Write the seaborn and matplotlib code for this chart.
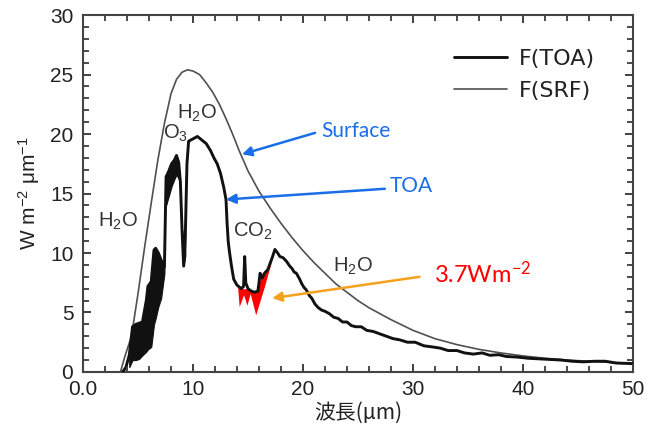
import matplotlib
matplotlib.use("Agg")
import matplotlib.pyplot as plt
from matplotlib.ticker import MultipleLocator, FixedLocator, FixedFormatter, NullFormatter
from matplotlib.lines import Line2D
import numpy as np
import pandas as pd
import seaborn as sns

# ---------------- data ----------------
srf_x = [3.4, 3.8, 4.4, 5.0, 5.6, 6.2, 6.8, 7.4, 8.0, 8.5, 9.0, 9.5, 10.0, 10.6,
         11.2, 11.8, 12.4, 13.0, 13.6, 14.2, 15.0, 16.0, 17.0, 18.0, 19.0, 20.0,
         21.0, 22.0, 23.0, 24.0, 25.0, 26.0, 27.0, 28.0, 30.0, 32.0, 34.0, 36.0,
         38.0, 40.0, 42.0, 44.0, 46.0, 48.0, 50.0]
srf_y = [0.0, 1.3, 3.0, 6.6, 10.5, 14.2, 17.8, 20.9, 23.4, 24.6, 25.2, 25.4, 25.3, 25.0,
         24.3, 23.5, 22.5, 21.3, 20.0, 18.6, 16.9, 15.2, 13.8, 12.5, 11.3, 10.2,
         9.2, 8.3, 7.4, 6.7, 6.0, 5.4, 4.9, 4.4, 3.5, 2.8, 2.3, 1.9,
         1.6, 1.35, 1.15, 1.0, 0.9, 0.8, 0.72]

toa_x = [3.6, 3.9, 4.2, 4.5, 4.8, 5.1, 5.4, 5.75, 5.9, 6.2, 6.45, 6.6, 6.85, 7.1, 7.4,
         7.55, 7.8, 8.05, 8.3, 8.5, 8.7, 8.85, 9.0, 9.15, 9.3, 9.45, 9.6, 10.0, 10.4,
         10.8, 11.2, 11.6, 11.9, 12.2, 12.5, 12.8, 13.0, 13.1, 13.2, 13.3, 13.5, 13.7,
         14.0, 14.4, 14.6, 14.7, 14.8, 15.0, 15.3, 15.6, 15.9, 16.0, 16.1, 16.3, 16.5,
         16.8, 17.0, 17.2, 17.45, 17.7, 17.9, 18.2, 18.5, 18.8, 19.0, 19.2, 19.4, 19.7,
         19.9, 20.1, 20.3, 20.6, 20.8, 21.1, 21.4, 21.7, 22.0, 22.4, 22.8, 23.2, 23.6,
         24.0, 24.4, 24.8, 25.3, 25.8, 26.4, 27.0, 27.6, 28.2, 28.8, 29.5, 30.2, 31.0,
         31.8, 32.5, 33.2, 34.0, 34.7, 35.5, 36.3, 37.0, 37.8, 38.5, 39.5, 40.5, 41.5,
         42.5, 43.5, 44.5, 45.5, 46.5, 47.5, 48.5, 50.0]
toa_y = [0.0, 0.4, 1.4, 3.8, 4.0, 4.1, 4.2, 6.0, 7.2, 7.6, 10.25, 10.4, 10.0, 9.4, 8.8,
         16.4, 16.9, 17.5, 17.8, 18.2, 17.6, 16.0, 12.0, 8.9, 11.5, 17.5, 19.4, 19.6, 19.8,
         19.5, 19.2, 18.6, 18.0, 17.5, 16.7, 15.5, 14.5, 12.5, 11.0, 10.2, 8.9, 7.8,
         7.3, 7.0, 7.2, 9.7, 7.5, 7.0, 6.8, 6.7, 6.8, 7.5, 8.3, 7.9, 8.3,
         8.6, 9.1, 9.6, 10.3, 10.0, 9.7, 9.6, 9.3, 8.9, 8.7, 8.4, 8.3, 7.8,
         7.4, 7.1, 6.9, 6.4, 6.2, 5.7, 5.4, 5.2, 5.1, 4.9, 4.6, 4.5, 4.2,
         4.2, 3.9, 3.8, 3.8, 3.5, 3.4, 3.2, 3.0, 2.8, 2.7, 2.5, 2.5, 2.2,
         2.1, 2.0, 1.8, 1.8, 1.6, 1.5, 1.6, 1.4, 1.45, 1.3, 1.25, 1.15, 1.1,
         1.05, 1.0, 0.9, 0.85, 0.9, 0.9, 0.75, 0.7]

# noisy (thick black) parts of the TOA spectrum: lower / upper envelopes
band1_x = [4.2, 4.5, 4.8, 5.1, 5.4, 5.75, 5.9, 6.2, 6.45, 6.6, 6.85, 7.1, 7.4]
band1_lo = [0.4, 1.0, 1.0, 1.1, 1.4, 1.7, 1.9, 2.1, 4.0, 4.5, 5.5, 6.2, 8.3]
band1_hi = [1.4, 3.8, 4.0, 4.1, 4.2, 6.0, 7.2, 7.6, 10.25, 10.4, 10.0, 9.4, 8.8]
band2_x = [7.55, 7.8, 8.05, 8.3, 8.5, 8.7]
band2_lo = [14.0, 14.8, 15.6, 16.2, 16.6, 16.2]
band2_hi = [16.4, 16.9, 17.5, 17.8, 18.2, 17.6]
band3_x = [9.0, 9.15, 9.3]
band3_lo = [9.5, 8.9, 9.8]
band3_hi = [12.0, 11.0, 11.5]

# red area (CO2 forcing 3.7 W m-2)
red_x = [14.05, 14.2, 14.6, 14.9, 15.2, 15.7, 16.1, 16.5, 16.8, 17.15]
red_hi = [7.2, 7.0, 7.0, 7.0, 6.8, 6.7, 7.8, 8.2, 8.6, 9.3]
red_lo = [7.2, 5.5, 6.5, 5.6, 6.6, 4.8, 6.0, 7.2, 8.2, 9.3]

xtick_values = [0, 10, 20, 30, 40, 50]
xtick_labels = ["0.0", "10", "20", "30", "40", "50"]
ytick_values = [0, 5, 10, 15, 20, 25, 30]
ytick_labels = ["0", "5", "10", "15", "20", "25", "30"]
xminor_step = 2
yminor_step = 1

legend_labels = ["F(TOA)", "F(SRF)"]

# ---------------- figure ----------------
ink = "#222222"
gray = "#444444"

sns.set_theme(style="white", rc={"xtick.major.pad": 6, "ytick.major.pad": 7})
plt.rcParams['font.family'] = ['Liberation Sans', 'Noto Sans CJK JP', 'DejaVu Sans']
plt.rcParams['mathtext.default'] = 'regular'

fig, ax = plt.subplots(figsize=(6.49, 4.32), dpi=100)
fig.subplots_adjust(left=0.128, right=0.975, bottom=0.139, top=0.965)

df_srf = pd.DataFrame({"wl": srf_x, "f": srf_y})
df_toa = pd.DataFrame({"wl": toa_x, "f": toa_y})

sns.lineplot(data=df_srf, x="wl", y="f", color="#505050", lw=1.2, ax=ax,
             estimator=None, sort=False, legend=False, zorder=3)
ax.fill_between(band1_x, band1_lo, band1_hi, color="#111111", lw=0.8, zorder=3)
ax.fill_between(band2_x, band2_lo, band2_hi, color="#111111", lw=0.8, zorder=3)
ax.fill_between(band3_x, band3_lo, band3_hi, color="#111111", lw=0.8, zorder=3)
ax.fill_between(red_x, red_lo, red_hi, color="#ff0000", lw=0, zorder=3.5)
sns.lineplot(data=df_toa, x="wl", y="f", color="#111111", lw=2.1, ax=ax,
             estimator=None, sort=False, legend=False, zorder=4)

ax.set_xlim(0, 50)
ax.set_ylim(0, 30)
ax.xaxis.set_major_locator(FixedLocator(xtick_values))
ax.xaxis.set_major_formatter(FixedFormatter(xtick_labels))
ax.yaxis.set_major_locator(FixedLocator(ytick_values))
ax.yaxis.set_major_formatter(FixedFormatter(ytick_labels))
ax.xaxis.set_minor_locator(MultipleLocator(xminor_step))
ax.yaxis.set_minor_locator(MultipleLocator(yminor_step))
for s in ax.spines.values():
    s.set_color(gray)
    s.set_linewidth(1.5)
ax.tick_params(which="both", direction="in", bottom=True, left=True, top=True, right=True,
               color=gray, labelcolor=ink)
ax.tick_params(which="major", length=6, width=1.3, labelsize=15)
ax.tick_params(which="minor", length=4, width=1.1)

ax.set_xlabel("波長(μm)", fontsize=15, color=ink, labelpad=2,
              family=['Noto Sans CJK JP', 'DejaVu Sans'])
ax.set_ylabel(r"W m$^{-2}$ $\mu$m$^{-1}$", fontsize=15, color=ink, labelpad=6)

# legend
handles = [Line2D([], [], color="#111111", lw=2.1),
           Line2D([], [], color="#505050", lw=1.2)]
leg = ax.legend(handles, legend_labels, loc="upper left", bbox_to_anchor=(0.675, 0.905),
                frameon=False, fontsize=16, handlelength=2.4, handletextpad=0.5,
                labelspacing=0.55, borderaxespad=0, borderpad=0)
for t in leg.get_texts():
    t.set_color(ink)
    t.set_family(['DejaVu Sans'])

# gas labels
gas_kw = dict(fontsize=14.5, color="#333333", ha="left", va="baseline")
ax.text(1.4, 12.2, "H$_2$O", **gas_kw)
ax.text(7.25, 19.6, "O$_3$", **gas_kw)
ax.text(8.5, 21.3, "H$_2$O", **gas_kw)
ax.text(13.65, 11.4, "CO$_2$", **gas_kw)
ax.text(22.75, 8.4, "H$_2$O", **gas_kw)

# annotations
blue = "#1a6ee8"
orange = "#f5a11c"
ax.annotate("", xy=(14.45, 18.3), xytext=(21.1, 20.1),
            arrowprops=dict(arrowstyle="-|>", color=blue, lw=1.8, mutation_scale=14,
                            shrinkA=0, shrinkB=0), zorder=6)
ax.text(21.7, 20.25, "Surface", color=blue, fontsize=15, family="Lato",
        ha="left", va="center")
ax.annotate("", xy=(13.0, 14.5), xytext=(27.45, 15.4),
            arrowprops=dict(arrowstyle="-|>", color=blue, lw=1.8, mutation_scale=14,
                            shrinkA=0, shrinkB=0), zorder=6)
ax.text(27.9, 15.6, "TOA", color=blue, fontsize=15, family="Lato",
        ha="left", va="center")
ax.annotate("", xy=(17.2, 6.2), xytext=(30.6, 8.0),
            arrowprops=dict(arrowstyle="-|>", color=orange, lw=1.8, mutation_scale=14,
                            shrinkA=0, shrinkB=0), zorder=6)
ax.text(31.9, 8.3, "3.7Wm$^{-2}$", color="#ff0000", fontsize=17, family="Lato",
        ha="left", va="center")

# transparent overlay axes carrying only the inward tick marks on all sides
tk = fig.add_axes(ax.get_position(), zorder=10)
tk.patch.set_visible(False)
tk.set_xlim(ax.get_xlim())
tk.set_ylim(ax.get_ylim())
tk.xaxis.set_major_locator(FixedLocator(xtick_values))
tk.yaxis.set_major_locator(FixedLocator(ytick_values))
tk.xaxis.set_minor_locator(MultipleLocator(xminor_step))
tk.yaxis.set_minor_locator(MultipleLocator(yminor_step))
tk.xaxis.set_major_formatter(NullFormatter())
tk.yaxis.set_major_formatter(NullFormatter())
for s in tk.spines.values():
    s.set_visible(False)
tk.tick_params(which="both", direction="in", bottom=True, left=True, top=True, right=True,
               labelbottom=False, labelleft=False, labeltop=False, labelright=False,
               color=gray)
tk.tick_params(which="major", length=6, width=1.3)
tk.tick_params(which="minor", length=4, width=1.1)
tk.grid(False)

fig.savefig("out.png", dpi=100)
